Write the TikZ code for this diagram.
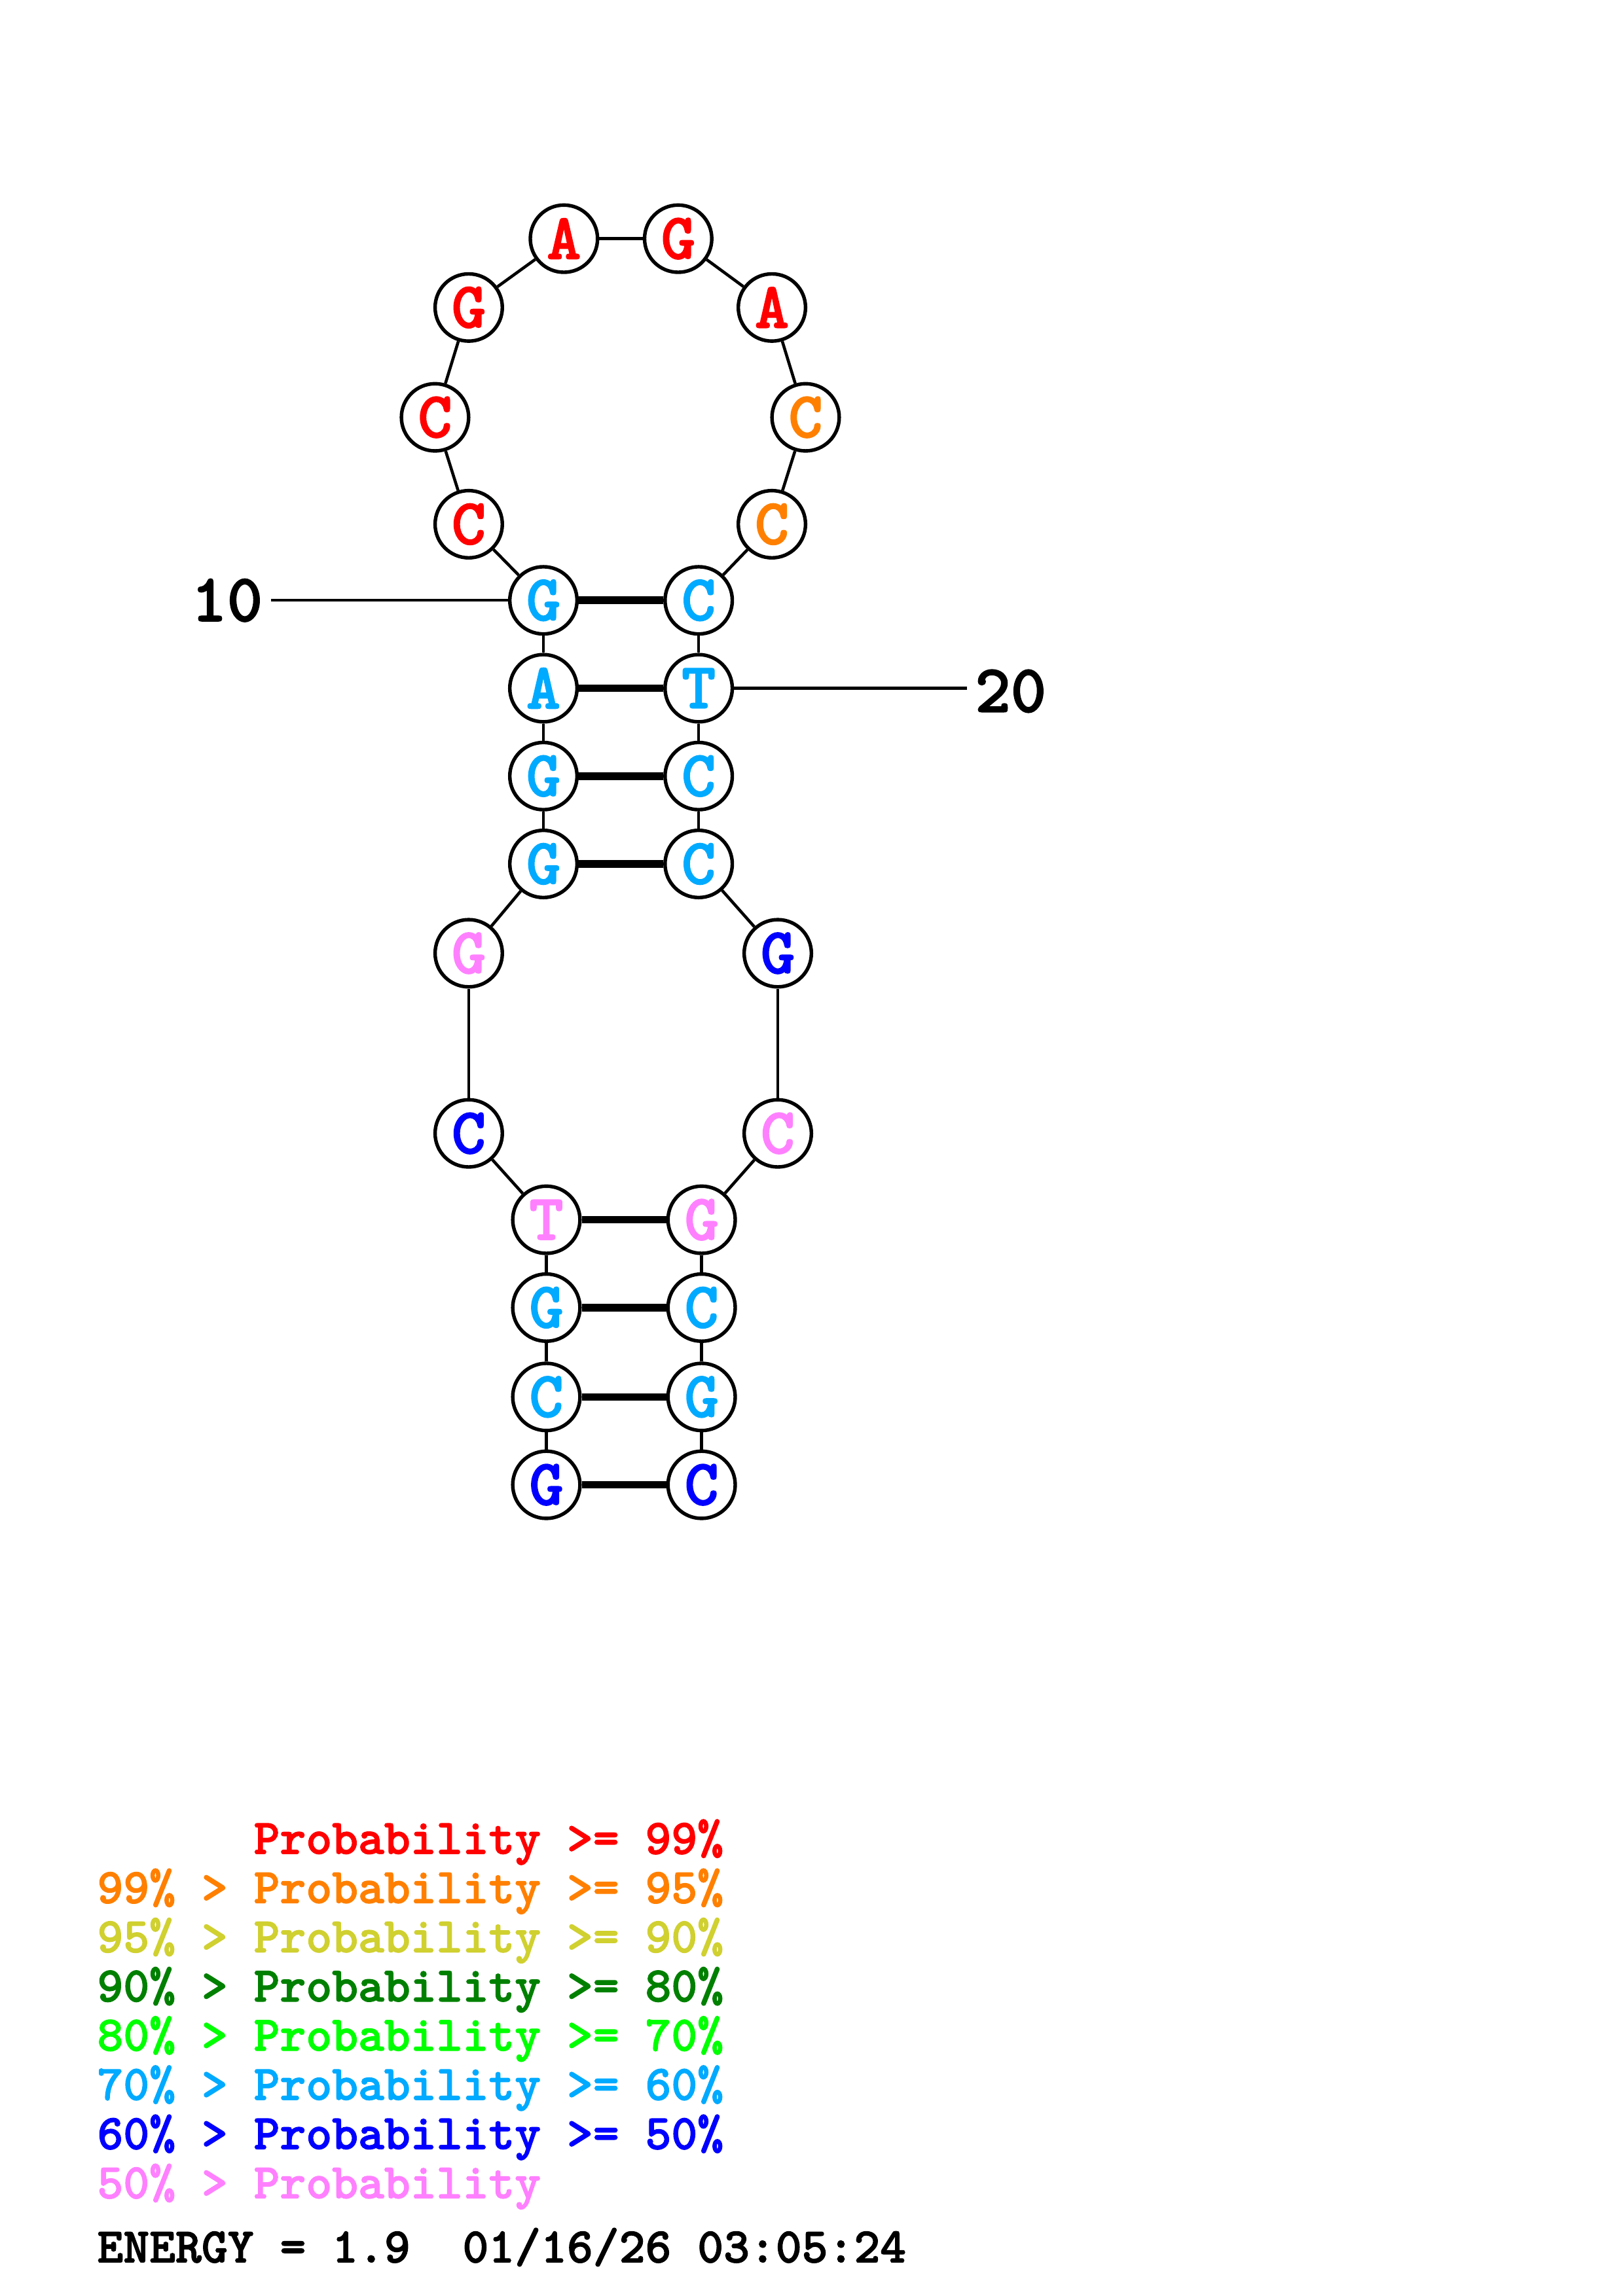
\documentclass[tikz,border=0pt]{standalone}
\usepackage{fontspec}
\newfontfamily\seqfont{lmmonolt10-bold}[Extension=.otf,FakeBold=1.6]
\definecolor{prob99}{RGB}{255,0,0}
\definecolor{prob95}{RGB}{255,128,0}
\definecolor{prob90}{RGB}{208,208,48}
\definecolor{prob80}{RGB}{0,128,0}
\definecolor{prob70}{RGB}{0,255,0}
\definecolor{prob60}{RGB}{0,170,255}
\definecolor{prob50}{RGB}{0,0,255}
\definecolor{problow}{RGB}{255,128,255}
\tikzset{
  base/.style={circle,draw,line width=1.3pt,fill=white,minimum size=8.7mm,inner sep=0pt,
    font=\seqfont\fontsize{24}{24}\selectfont},
  backbone/.style={line width=1.1pt},
  bond/.style={line width=2.8pt},
  tick/.style={font=\seqfont\fontsize{25}{25}\selectfont,inner sep=1mm},
  legend/.style={anchor=base west,inner sep=0pt,font=\seqfont\fontsize{18.3}{18.3}\selectfont}
}
\begin{document}
\begin{tikzpicture}[x=0.18953mm,y=-0.18953mm]
        \useasboundingbox (0,0) rectangle (1108,1568);
        % bases, 5' end at the bottom left
        \foreach \n/\x/\y/\b/\c in {1/373/1014/G/prob50, 2/373/954/C/prob60, 3/373/893/G/prob60,
            4/373/833/T/problow, 5/320/774/C/prob50, 6/320/651/G/problow, 7/371/590/G/prob60,
            8/371/530/G/prob60, 9/371/470/A/prob60, 10/371/410/G/prob60, 11/320/358/C/prob99,
            12/297/285/C/prob99, 13/320/210/G/prob99, 14/385/163/A/prob99, 15/463/163/G/prob99,
            16/527/210/A/prob99, 17/550/285/C/prob95, 18/527/358/C/prob95, 19/477/410/C/prob60,
            20/477/470/T/prob60, 21/477/530/C/prob60, 22/477/590/C/prob60, 23/531/651/G/prob50,
            24/531/774/C/problow, 25/479/833/G/problow, 26/479/893/C/prob60, 27/479/954/G/prob60,
            28/479/1014/C/prob50}
        \node[base,text=\c] (n\n) at (\x,\y) {\b};
        \foreach \i [count=\j from 2] in {1,...,27}
        \draw[backbone] (n\i) -- (n\j);
        \foreach \a/\b in {1/28, 2/27, 3/26, 4/25, 7/22, 8/21, 9/20, 10/19}
        \draw[bond] (n\a) -- (n\b);
        % position marks
        \node[tick] (l10) at (155,410) {10};
        \node[tick] (l20) at (690,472) {20};
        \draw[line width=1pt] (l10.east |- n10) -- (n10);
        \draw[line width=1pt] (n20) -- (l20.west |- n20);
        % legend
        \foreach \k/\c/\t in {0/prob99/{\hphantom{99\% > }Probability >= 99\%},
            1/prob95/{99\% > Probability >= 95\%}, 2/prob90/{95\% > Probability >= 90\%},
            3/prob80/{90\% > Probability >= 80\%}, 4/prob70/{80\% > Probability >= 70\%},
            5/prob60/{70\% > Probability >= 60\%}, 6/prob50/{60\% > Probability >= 50\%},
            7/problow/{50\% > Probability}}
        \node[legend,text=\c] (key\k) at (66,1266+33.6*\k) {\t};
        \node[legend] (energy) at (66,1545) {ENERGY = 1.9\ \ 01/16/26 03:05:24};
\end{tikzpicture}
\end{document}
